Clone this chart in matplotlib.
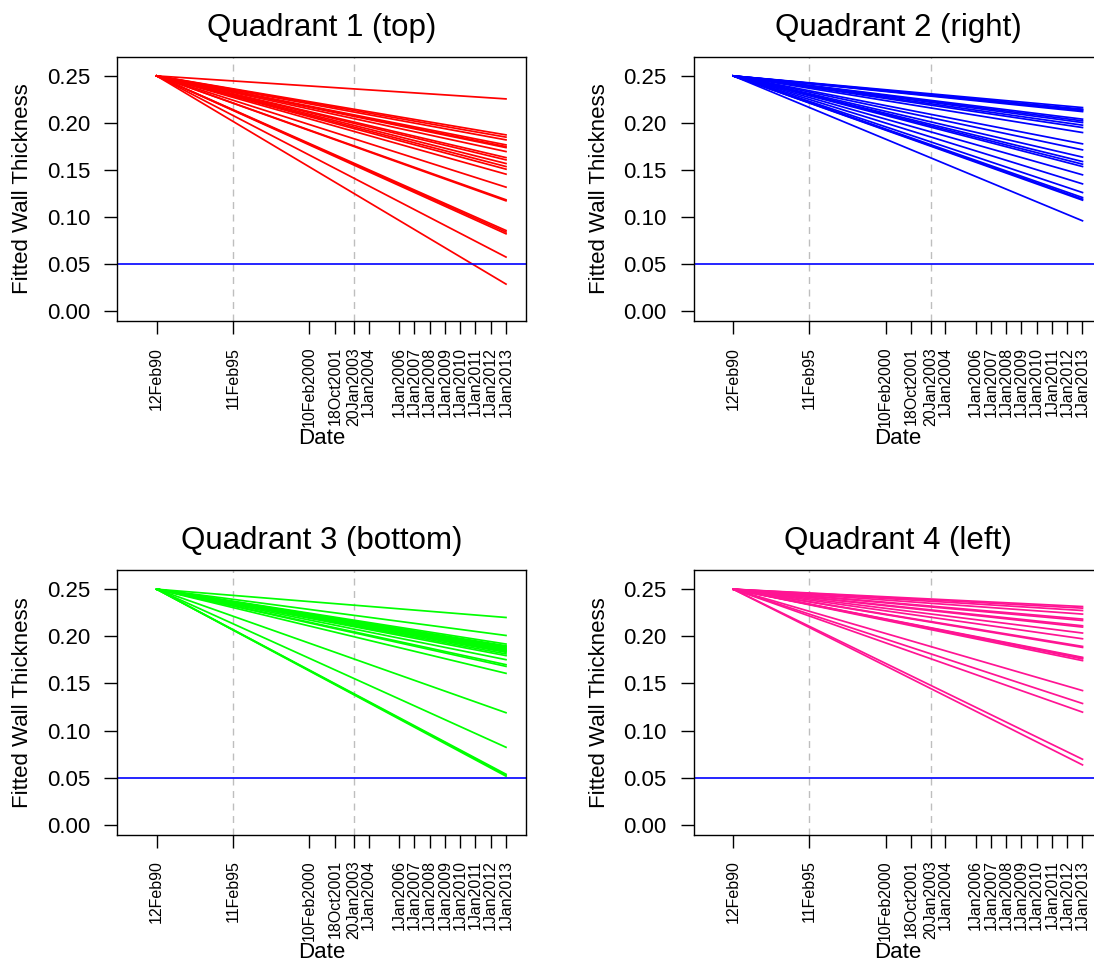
from datetime import datetime, timedelta
import matplotlib
matplotlib.use("Agg")
import matplotlib.pyplot as plt

plt.rcParams["font.family"] = ["Liberation Sans", "DejaVu Sans"]

# fitted lines all start at 0.25 on the first inspection date
start_date = datetime(1990, 2, 12)
end_date = datetime(2013, 1, 1)
start_value = 0.25

tick_dates = [datetime(1990, 2, 12), datetime(1995, 2, 11), datetime(2000, 2, 10),
              datetime(2001, 10, 18), datetime(2003, 1, 20), datetime(2004, 1, 1),
              datetime(2006, 1, 1), datetime(2007, 1, 1), datetime(2008, 1, 1),
              datetime(2009, 1, 1), datetime(2010, 1, 1), datetime(2011, 1, 1),
              datetime(2012, 1, 1), datetime(2013, 1, 1)]
tick_labels = ["12Feb90", "11Feb95", "10Feb2000", "18Oct2001", "20Jan2003", "1Jan2004",
               "1Jan2006", "1Jan2007", "1Jan2008", "1Jan2009", "1Jan2010", "1Jan2011",
               "1Jan2012", "1Jan2013"]
grid_dates = [datetime(1995, 2, 11), datetime(2003, 1, 20)]
threshold = 0.05

titles = ["Quadrant 1 (top)", "Quadrant 2 (right)", "Quadrant 3 (bottom)", "Quadrant 4 (left)"]
colors = ["#FF0000", "#0000FF", "#00FF00", "#FF1493"]

# predicted thickness on 1Jan2013 for each fitted line
q1_end = [0.2256, 0.1874, 0.1850, 0.1821, 0.1768, 0.1750, 0.1739, 0.1697, 0.1633, 0.1609,
          0.1570, 0.1538, 0.1510, 0.1457, 0.1319, 0.1185, 0.1174, 0.0859, 0.0842, 0.0824,
          0.0577, 0.0290]
q2_end = [0.2164, 0.2147, 0.2140, 0.2132, 0.2121, 0.2041, 0.2023, 0.2005, 0.1977, 0.1952,
          0.1899, 0.1779, 0.1715, 0.1638, 0.1591, 0.1563, 0.1538, 0.1450, 0.1354, 0.1262,
          0.1209, 0.1192, 0.1181, 0.0962]
q3_end = [0.2200, 0.2009, 0.1918, 0.1900, 0.1890, 0.1882, 0.1873, 0.1865, 0.1856, 0.1847,
          0.1838, 0.1830, 0.1813, 0.1795, 0.1752, 0.1699, 0.1681, 0.1607, 0.1189, 0.0822,
          0.0536, 0.0526, 0.0515]
q4_end = [0.2316, 0.2299, 0.2274, 0.2236, 0.2183, 0.2168, 0.2112, 0.2098, 0.2035, 0.1974,
          0.1893, 0.1882, 0.1777, 0.1770, 0.1760, 0.1742, 0.1424, 0.1287, 0.1195, 0.0695,
          0.0635]
ends = [q1_end, q2_end, q3_end, q4_end]

W, H = 1094, 967
fig = plt.figure(figsize=(W / 100, H / 100), dpi=100)

# axes boxes in pixels: left, top (from image top)
lefts = [117, 693.5, 117, 693.5]
tops = [56.7, 56.7, 570, 570]
box_w, box_h = 409, 264.5

for i in range(4):
    ax = fig.add_axes([lefts[i] / W, 1 - (tops[i] + box_h) / H, box_w / W, box_h / H])
    for e in ends[i]:
        ax.plot([start_date, end_date], [start_value, e], color=colors[i], lw=1.25)
    ax.axhline(threshold, color="#0000FF", lw=1.2)
    for g in grid_dates:
        ax.axvline(g, color="#BEBEBE", lw=1.0, ls=(0, (5, 4)), zorder=0)
    ax.set_xlim(start_date - timedelta(days=950), end_date + timedelta(days=479))
    ax.set_ylim(-0.0104, 0.2704)
    ax.set_yticks([0.0, 0.05, 0.10, 0.15, 0.20, 0.25])
    ax.set_yticklabels(["0.00", "0.05", "0.10", "0.15", "0.20", "0.25"], fontsize=16)
    ax.set_xticks(tick_dates)
    ax.set_xticklabels(tick_labels, rotation=90, fontsize=11.5, va="top", ha="center")
    ax.tick_params(axis="both", direction="out", length=9.4, width=1.0, color="black")
    ax.tick_params(axis="x", pad=9)
    ax.tick_params(axis="y", pad=10)
    for s in ax.spines.values():
        s.set_linewidth(1.0)
    ax.set_title(titles[i], fontsize=22.5, pad=15)
    ax.set_xlabel("Date", fontsize=16)
    ax.xaxis.set_label_coords(0.5, -0.405)
    ax.set_ylabel("Fitted Wall Thickness", fontsize=16)
    ax.yaxis.set_label_coords(-0.205, 0.5)

fig.savefig("out.png", dpi=100)
